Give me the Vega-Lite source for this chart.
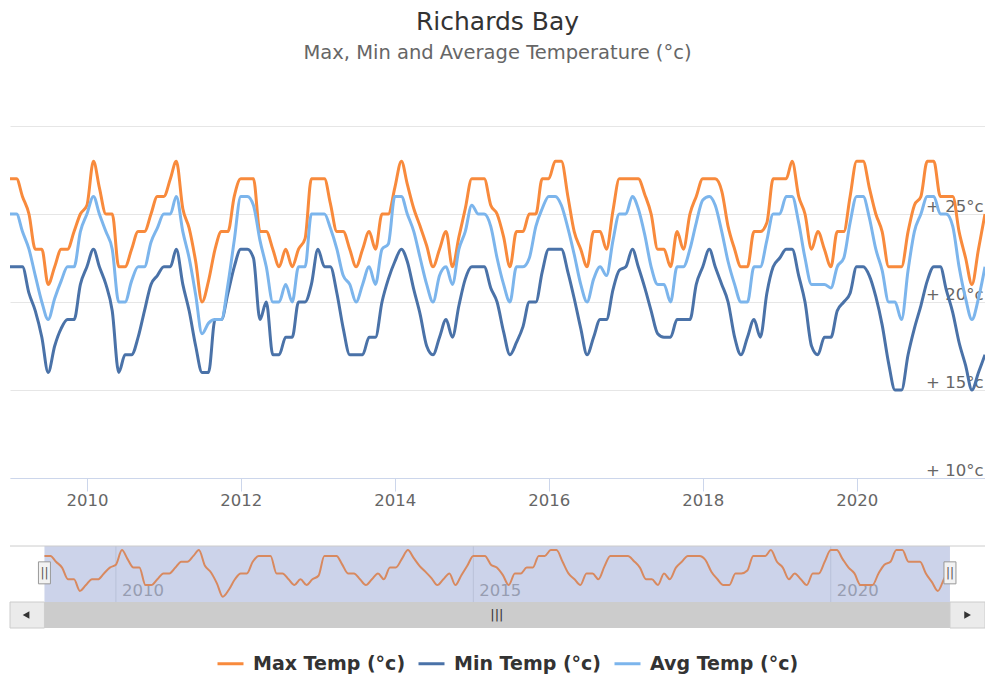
{
  "$schema": "https://vega.github.io/schema/vega-lite/v6.json",
  "width": 975,
  "height": 502,
  "autosize": {"type": "none"},
  "padding": {"left": 10, "top": 126, "right": 0, "bottom": 47},
  "background": "#ffffff",
  "config": {"view": {"stroke": null}, "font": "DejaVu Sans"},
  "title": {
    "text": "Richards Bay",
    "subtitle": "Max, Min and Average Temperature (°c)",
    "anchor": "middle",
    "frame": "group",
    "font": "DejaVu Sans",
    "fontSize": 25,
    "fontWeight": "normal",
    "color": "#333333",
    "subtitleFont": "DejaVu Sans",
    "subtitleFontSize": 19.5,
    "subtitleColor": "#666666",
    "subtitlePadding": 9,
    "offset": 64
  },
  "datasets": {
    "maxTemp": [
      {"date":"2009-01","value":27},{"date":"2009-02","value":27},{"date":"2009-03","value":26},{"date":"2009-04","value":25},{"date":"2009-05","value":23},{"date":"2009-06","value":23},{"date":"2009-07","value":21},{"date":"2009-08","value":22},{"date":"2009-09","value":23},{"date":"2009-10","value":23},{"date":"2009-11","value":24},{"date":"2009-12","value":25},
      {"date":"2010-01","value":25.5},{"date":"2010-02","value":28},{"date":"2010-03","value":26.5},{"date":"2010-04","value":25},{"date":"2010-05","value":25},{"date":"2010-06","value":22},{"date":"2010-07","value":22},{"date":"2010-08","value":23},{"date":"2010-09","value":24},{"date":"2010-10","value":24},{"date":"2010-11","value":25},{"date":"2010-12","value":26},
      {"date":"2011-01","value":26},{"date":"2011-02","value":27},{"date":"2011-03","value":28},{"date":"2011-04","value":25.3},{"date":"2011-05","value":24.2},{"date":"2011-06","value":22.3},{"date":"2011-07","value":20},{"date":"2011-08","value":21.2},{"date":"2011-09","value":23},{"date":"2011-10","value":24},{"date":"2011-11","value":24},{"date":"2011-12","value":26},
      {"date":"2012-01","value":27},{"date":"2012-02","value":27},{"date":"2012-03","value":27},{"date":"2012-04","value":24},{"date":"2012-05","value":24},{"date":"2012-06","value":23},{"date":"2012-07","value":22},{"date":"2012-08","value":23},{"date":"2012-09","value":22},{"date":"2012-10","value":23},{"date":"2012-11","value":23.6},{"date":"2012-12","value":27},
      {"date":"2013-01","value":27},{"date":"2013-02","value":27},{"date":"2013-03","value":25.6},{"date":"2013-04","value":24},{"date":"2013-05","value":24},{"date":"2013-06","value":23},{"date":"2013-07","value":22},{"date":"2013-08","value":23},{"date":"2013-09","value":24},{"date":"2013-10","value":23},{"date":"2013-11","value":25},{"date":"2013-12","value":25},
      {"date":"2014-01","value":26.5},{"date":"2014-02","value":28},{"date":"2014-03","value":26.7},{"date":"2014-04","value":25.3},{"date":"2014-05","value":24.3},{"date":"2014-06","value":23.2},{"date":"2014-07","value":22},{"date":"2014-08","value":23},{"date":"2014-09","value":24},{"date":"2014-10","value":22},{"date":"2014-11","value":23.7},{"date":"2014-12","value":25.3},
      {"date":"2015-01","value":27},{"date":"2015-02","value":27},{"date":"2015-03","value":27},{"date":"2015-04","value":25.5},{"date":"2015-05","value":25},{"date":"2015-06","value":23.7},{"date":"2015-07","value":22},{"date":"2015-08","value":24},{"date":"2015-09","value":24},{"date":"2015-10","value":25},{"date":"2015-11","value":25},{"date":"2015-12","value":27},
      {"date":"2016-01","value":27},{"date":"2016-02","value":28},{"date":"2016-03","value":28},{"date":"2016-04","value":26},{"date":"2016-05","value":24},{"date":"2016-06","value":23},{"date":"2016-07","value":22},{"date":"2016-08","value":24},{"date":"2016-09","value":24},{"date":"2016-10","value":23},{"date":"2016-11","value":25.2},{"date":"2016-12","value":27},
      {"date":"2017-01","value":27},{"date":"2017-02","value":27},{"date":"2017-03","value":27},{"date":"2017-04","value":26.1},{"date":"2017-05","value":25},{"date":"2017-06","value":23},{"date":"2017-07","value":23},{"date":"2017-08","value":22},{"date":"2017-09","value":24},{"date":"2017-10","value":23},{"date":"2017-11","value":25},{"date":"2017-12","value":26},
      {"date":"2018-01","value":27},{"date":"2018-02","value":27},{"date":"2018-03","value":27},{"date":"2018-04","value":26.3},{"date":"2018-05","value":24.3},{"date":"2018-06","value":23},{"date":"2018-07","value":22},{"date":"2018-08","value":22},{"date":"2018-09","value":24},{"date":"2018-10","value":24},{"date":"2018-11","value":24.5},{"date":"2018-12","value":27},
      {"date":"2019-01","value":27},{"date":"2019-02","value":27},{"date":"2019-03","value":28},{"date":"2019-04","value":26},{"date":"2019-05","value":25},{"date":"2019-06","value":23},{"date":"2019-07","value":24},{"date":"2019-08","value":23},{"date":"2019-09","value":22},{"date":"2019-10","value":24},{"date":"2019-11","value":24},{"date":"2019-12","value":26},
      {"date":"2020-01","value":28},{"date":"2020-02","value":28},{"date":"2020-03","value":26.5},{"date":"2020-04","value":25},{"date":"2020-05","value":24},{"date":"2020-06","value":22},{"date":"2020-07","value":22},{"date":"2020-08","value":22},{"date":"2020-09","value":24},{"date":"2020-10","value":25.5},{"date":"2020-11","value":26},{"date":"2020-12","value":28},
      {"date":"2021-01","value":28},{"date":"2021-02","value":26},{"date":"2021-03","value":26},{"date":"2021-04","value":26},{"date":"2021-05","value":24},{"date":"2021-06","value":22.5},{"date":"2021-07","value":21},{"date":"2021-08","value":23},{"date":"2021-09","value":25}
    ],
    "minTemp": [
      {"date":"2009-01","value":22},{"date":"2009-02","value":22},{"date":"2009-03","value":22},{"date":"2009-04","value":20.5},{"date":"2009-05","value":19.5},{"date":"2009-06","value":18},{"date":"2009-07","value":16},{"date":"2009-08","value":17.5},{"date":"2009-09","value":18.5},{"date":"2009-10","value":19},{"date":"2009-11","value":19},{"date":"2009-12","value":21},
      {"date":"2010-01","value":22},{"date":"2010-02","value":23},{"date":"2010-03","value":22},{"date":"2010-04","value":21},{"date":"2010-05","value":19.5},{"date":"2010-06","value":16},{"date":"2010-07","value":17},{"date":"2010-08","value":17},{"date":"2010-09","value":18},{"date":"2010-10","value":19.5},{"date":"2010-11","value":21},{"date":"2010-12","value":21.5},
      {"date":"2011-01","value":22},{"date":"2011-02","value":22},{"date":"2011-03","value":23},{"date":"2011-04","value":21},{"date":"2011-05","value":19.5},{"date":"2011-06","value":17.5},{"date":"2011-07","value":16},{"date":"2011-08","value":16},{"date":"2011-09","value":19},{"date":"2011-10","value":19},{"date":"2011-11","value":20.5},{"date":"2011-12","value":22},
      {"date":"2012-01","value":23},{"date":"2012-02","value":23},{"date":"2012-03","value":22.5},{"date":"2012-04","value":19},{"date":"2012-05","value":20},{"date":"2012-06","value":17},{"date":"2012-07","value":17},{"date":"2012-08","value":18},{"date":"2012-09","value":18},{"date":"2012-10","value":20},{"date":"2012-11","value":20},{"date":"2012-12","value":21},
      {"date":"2013-01","value":23},{"date":"2013-02","value":22},{"date":"2013-03","value":22},{"date":"2013-04","value":20.5},{"date":"2013-05","value":18.5},{"date":"2013-06","value":17},{"date":"2013-07","value":17},{"date":"2013-08","value":17},{"date":"2013-09","value":18},{"date":"2013-10","value":18},{"date":"2013-11","value":20},{"date":"2013-12","value":21.3},
      {"date":"2014-01","value":22.3},{"date":"2014-02","value":23},{"date":"2014-03","value":22.3},{"date":"2014-04","value":20.7},{"date":"2014-05","value":19.3},{"date":"2014-06","value":17.5},{"date":"2014-07","value":17},{"date":"2014-08","value":18},{"date":"2014-09","value":19},{"date":"2014-10","value":18},{"date":"2014-11","value":19.8},{"date":"2014-12","value":21.3},
      {"date":"2015-01","value":22},{"date":"2015-02","value":22},{"date":"2015-03","value":22},{"date":"2015-04","value":20.8},{"date":"2015-05","value":20},{"date":"2015-06","value":18.3},{"date":"2015-07","value":17},{"date":"2015-08","value":17.7},{"date":"2015-09","value":18.6},{"date":"2015-10","value":20},{"date":"2015-11","value":20},{"date":"2015-12","value":21.7},
      {"date":"2016-01","value":23},{"date":"2016-02","value":23},{"date":"2016-03","value":23},{"date":"2016-04","value":21.7},{"date":"2016-05","value":20.2},{"date":"2016-06","value":18.5},{"date":"2016-07","value":17},{"date":"2016-08","value":18},{"date":"2016-09","value":19},{"date":"2016-10","value":19},{"date":"2016-11","value":20.7},{"date":"2016-12","value":21.8},
      {"date":"2017-01","value":22},{"date":"2017-02","value":23},{"date":"2017-03","value":22},{"date":"2017-04","value":20.8},{"date":"2017-05","value":19.5},{"date":"2017-06","value":18.2},{"date":"2017-07","value":18},{"date":"2017-08","value":18},{"date":"2017-09","value":19},{"date":"2017-10","value":19},{"date":"2017-11","value":19},{"date":"2017-12","value":21},
      {"date":"2018-01","value":22},{"date":"2018-02","value":23},{"date":"2018-03","value":22},{"date":"2018-04","value":21},{"date":"2018-05","value":20},{"date":"2018-06","value":18},{"date":"2018-07","value":17},{"date":"2018-08","value":18},{"date":"2018-09","value":19},{"date":"2018-10","value":18},{"date":"2018-11","value":20.5},{"date":"2018-12","value":22},
      {"date":"2019-01","value":22.5},{"date":"2019-02","value":23},{"date":"2019-03","value":23},{"date":"2019-04","value":21.5},{"date":"2019-05","value":20},{"date":"2019-06","value":17.5},{"date":"2019-07","value":17},{"date":"2019-08","value":18},{"date":"2019-09","value":18},{"date":"2019-10","value":19.5},{"date":"2019-11","value":20},{"date":"2019-12","value":20.5},
      {"date":"2020-01","value":22},{"date":"2020-02","value":22},{"date":"2020-03","value":21.5},{"date":"2020-04","value":20.3},{"date":"2020-05","value":18.7},{"date":"2020-06","value":16.5},{"date":"2020-07","value":15},{"date":"2020-08","value":15},{"date":"2020-09","value":17},{"date":"2020-10","value":18.5},{"date":"2020-11","value":19.8},{"date":"2020-12","value":21.2},
      {"date":"2021-01","value":22},{"date":"2021-02","value":22},{"date":"2021-03","value":20.7},{"date":"2021-04","value":19.4},{"date":"2021-05","value":17.7},{"date":"2021-06","value":16.4},{"date":"2021-07","value":15},{"date":"2021-08","value":16},{"date":"2021-09","value":17}
    ],
    "avgTemp": [
      {"date":"2009-01","value":25},{"date":"2009-02","value":25},{"date":"2009-03","value":24},{"date":"2009-04","value":23},{"date":"2009-05","value":21.5},{"date":"2009-06","value":20},{"date":"2009-07","value":19},{"date":"2009-08","value":20.2},{"date":"2009-09","value":21.2},{"date":"2009-10","value":22},{"date":"2009-11","value":22},{"date":"2009-12","value":24},
      {"date":"2010-01","value":25},{"date":"2010-02","value":26},{"date":"2010-03","value":25},{"date":"2010-04","value":24},{"date":"2010-05","value":23},{"date":"2010-06","value":20},{"date":"2010-07","value":20},{"date":"2010-08","value":21.2},{"date":"2010-09","value":22},{"date":"2010-10","value":22},{"date":"2010-11","value":23.4},{"date":"2010-12","value":24.2},
      {"date":"2011-01","value":25},{"date":"2011-02","value":25},{"date":"2011-03","value":26},{"date":"2011-04","value":24},{"date":"2011-05","value":22.5},{"date":"2011-06","value":20.4},{"date":"2011-07","value":18.2},{"date":"2011-08","value":18.8},{"date":"2011-09","value":19},{"date":"2011-10","value":19},{"date":"2011-11","value":21},{"date":"2011-12","value":23.5},
      {"date":"2012-01","value":26},{"date":"2012-02","value":26},{"date":"2012-03","value":25.5},{"date":"2012-04","value":23.5},{"date":"2012-05","value":22},{"date":"2012-06","value":20},{"date":"2012-07","value":20},{"date":"2012-08","value":21},{"date":"2012-09","value":20},{"date":"2012-10","value":22},{"date":"2012-11","value":22},{"date":"2012-12","value":25},
      {"date":"2013-01","value":25},{"date":"2013-02","value":25},{"date":"2013-03","value":24.2},{"date":"2013-04","value":23},{"date":"2013-05","value":21.5},{"date":"2013-06","value":21},{"date":"2013-07","value":20},{"date":"2013-08","value":21},{"date":"2013-09","value":22},{"date":"2013-10","value":21},{"date":"2013-11","value":23},{"date":"2013-12","value":23.3},
      {"date":"2014-01","value":26},{"date":"2014-02","value":26},{"date":"2014-03","value":25},{"date":"2014-04","value":24},{"date":"2014-05","value":22.5},{"date":"2014-06","value":21},{"date":"2014-07","value":20},{"date":"2014-08","value":21.5},{"date":"2014-09","value":22},{"date":"2014-10","value":21},{"date":"2014-11","value":23},{"date":"2014-12","value":24},
      {"date":"2015-01","value":25.5},{"date":"2015-02","value":25},{"date":"2015-03","value":25},{"date":"2015-04","value":24.3},{"date":"2015-05","value":22.5},{"date":"2015-06","value":21},{"date":"2015-07","value":20},{"date":"2015-08","value":22},{"date":"2015-09","value":22},{"date":"2015-10","value":22.5},{"date":"2015-11","value":24.3},{"date":"2015-12","value":25.3},
      {"date":"2016-01","value":26},{"date":"2016-02","value":26},{"date":"2016-03","value":25.5},{"date":"2016-04","value":24.2},{"date":"2016-05","value":22.7},{"date":"2016-06","value":21},{"date":"2016-07","value":20},{"date":"2016-08","value":21.3},{"date":"2016-09","value":22},{"date":"2016-10","value":21.5},{"date":"2016-11","value":23.5},{"date":"2016-12","value":25},
      {"date":"2017-01","value":25},{"date":"2017-02","value":26},{"date":"2017-03","value":25.3},{"date":"2017-04","value":23.8},{"date":"2017-05","value":22},{"date":"2017-06","value":21},{"date":"2017-07","value":21},{"date":"2017-08","value":20},{"date":"2017-09","value":22},{"date":"2017-10","value":22},{"date":"2017-11","value":23},{"date":"2017-12","value":24.5},
      {"date":"2018-01","value":25.8},{"date":"2018-02","value":26},{"date":"2018-03","value":25.5},{"date":"2018-04","value":24},{"date":"2018-05","value":22.3},{"date":"2018-06","value":21},{"date":"2018-07","value":20},{"date":"2018-08","value":20},{"date":"2018-09","value":22},{"date":"2018-10","value":22},{"date":"2018-11","value":23.5},{"date":"2018-12","value":25},
      {"date":"2019-01","value":25},{"date":"2019-02","value":26},{"date":"2019-03","value":26},{"date":"2019-04","value":24.5},{"date":"2019-05","value":22.5},{"date":"2019-06","value":21},{"date":"2019-07","value":21},{"date":"2019-08","value":21},{"date":"2019-09","value":20.8},{"date":"2019-10","value":22},{"date":"2019-11","value":22.5},{"date":"2019-12","value":24.5},
      {"date":"2020-01","value":26},{"date":"2020-02","value":26},{"date":"2020-03","value":24.8},{"date":"2020-04","value":23},{"date":"2020-05","value":21.8},{"date":"2020-06","value":20},{"date":"2020-07","value":20},{"date":"2020-08","value":19},{"date":"2020-09","value":21.8},{"date":"2020-10","value":24},{"date":"2020-11","value":25},{"date":"2020-12","value":26},
      {"date":"2021-01","value":26},{"date":"2021-02","value":25},{"date":"2021-03","value":25},{"date":"2021-04","value":24.3},{"date":"2021-05","value":22},{"date":"2021-06","value":20.2},{"date":"2021-07","value":19},{"date":"2021-08","value":20.2},{"date":"2021-09","value":22}
    ],
    "selection": [{"from": "2009-01", "to": "2021-09"}],
    "navYears": [{"year": "2010-01"}, {"year": "2015-01"}, {"year": "2020-01"}],
    "scrollButtons": [{"from": "2008-07-09", "to": "2009-01-01", "side": "left"}, {"from": "2021-09-01", "to": "2022-02-27", "side": "right"}],
    "scrollArrows": [{"at": "2008-09-29", "shape": "triangle-left"}, {"at": "2021-11-30", "shape": "triangle-right"}],
    "scrollGrip": [{"at": "2015-05-01", "label": "|||"}]
  },
  "layer": [
    {
      "encoding": {
        "x": {
          "field": "date", "type": "temporal",
          "scale": {"type": "utc", "domain": [{"year": 2009, "month": 1, "date": 1, "utc": true}, {"year": 2021, "month": 9, "date": 1, "utc": true}], "range": [0, 975]},
          "axis": {
            "orient": "bottom", "offset": -150, "title": null, "grid": false,
            "values": [{"year": 2010, "utc": true}, {"year": 2012, "utc": true}, {"year": 2014, "utc": true}, {"year": 2016, "utc": true}, {"year": 2018, "utc": true}, {"year": 2020, "utc": true}],
            "format": "%Y",
            "domainColor": "#ccd6eb", "tickColor": "#ccd6eb", "tickSize": 13,
            "labelFont": "DejaVu Sans", "labelFontSize": 16.5, "labelColor": "#666666", "labelPadding": 1
          }
        },
        "y": {
          "field": "value", "type": "quantitative",
          "scale": {"domain": [10, 30], "range": [352, 0], "nice": false, "zero": false},
          "axis": {
            "orient": "right", "title": null, "values": [10, 15, 20, 25, 30],
            "labelExpr": "datum.value == 30 ? '' : '+ ' + datum.value + '°c'",
            "grid": true, "gridColor": "#e6e6e6", "domain": false, "ticks": false, "tickSize": 0,
            "labelAlign": "right", "labelBaseline": "middle", "labelPadding": -2, "labelOffset": -8,
            "labelFont": "DejaVu Sans", "labelFontSize": 16.5, "labelColor": "#666666"
          }
        },
        "color": {
          "type": "nominal",
          "scale": {"domain": ["Max Temp (°c)", "Min Temp (°c)", "Avg Temp (°c)"], "range": ["#f88a3c", "#4a72a8", "#7cb5ec"]},
          "legend": {
            "orient": "none", "legendX": 206, "legendY": 523, "direction": "horizontal", "title": null,
            "symbolType": "stroke", "symbolStrokeWidth": 3, "symbolSize": 676,
            "labelFont": "DejaVu Sans", "labelFontSize": 19, "labelFontWeight": "bold", "labelColor": "#333333",
            "columnPadding": 6, "labelOffset": 8
          }
        }
      },
      "layer": [
        {"data": {"name": "maxTemp"}, "mark": {"type": "line", "interpolate": "monotone", "strokeWidth": 3}, "encoding": {"color": {"datum": "Max Temp (°c)"}}},
        {"data": {"name": "minTemp"}, "mark": {"type": "line", "interpolate": "monotone", "strokeWidth": 3}, "encoding": {"color": {"datum": "Min Temp (°c)"}}},
        {"data": {"name": "avgTemp"}, "mark": {"type": "line", "interpolate": "monotone", "strokeWidth": 3}, "encoding": {"color": {"datum": "Avg Temp (°c)"}}}
      ]
    },
    {
      "layer": [
        {
          "data": {"name": "selection"},
          "mark": {"type": "rect", "fill": "#ccd3ea"},
          "encoding": {
            "x": {"field": "from", "type": "temporal", "axis": null, "scale": {"type": "utc", "domain": [{"year": 2008, "month": 7, "date": 9, "utc": true}, {"year": 2022, "month": 2, "date": 27, "utc": true}], "range": [0, 975]}},
            "x2": {"field": "to"},
            "y": {"datum": 19.1, "type": "quantitative", "axis": null, "scale": {"domain": [19.1, 28.7], "range": [476, 420], "nice": false, "zero": false}},
            "y2": {"datum": 28.7}
          }
        },
        {
          "data": {"name": "navYears"},
          "mark": {"type": "rule", "stroke": "#b9c1d8", "strokeWidth": 1},
          "encoding": {
            "x": {"field": "year", "type": "temporal", "axis": null, "scale": {"type": "utc", "domain": [{"year": 2008, "month": 7, "date": 9, "utc": true}, {"year": 2022, "month": 2, "date": 27, "utc": true}], "range": [0, 975]}},
            "y": {"datum": 19.1, "type": "quantitative", "axis": null, "scale": {"domain": [19.1, 28.7], "range": [476, 420], "nice": false, "zero": false}},
            "y2": {"datum": 28.7}
          }
        },
        {
          "data": {"name": "navYears"},
          "mark": {"type": "text", "align": "left", "baseline": "middle", "dx": 6, "fontSize": 16.5, "font": "DejaVu Sans", "fill": "#979db1"},
          "encoding": {
            "x": {"field": "year", "type": "temporal", "axis": null, "scale": {"type": "utc", "domain": [{"year": 2008, "month": 7, "date": 9, "utc": true}, {"year": 2022, "month": 2, "date": 27, "utc": true}], "range": [0, 975]}},
            "y": {"datum": 21.0, "type": "quantitative", "axis": null, "scale": {"domain": [19.1, 28.7], "range": [476, 420], "nice": false, "zero": false}},
            "text": {"field": "year", "type": "temporal", "format": "%Y"}
          }
        },
        {
          "data": {"name": "maxTemp"},
          "mark": {"type": "line", "interpolate": "monotone", "stroke": "#d8895f", "strokeWidth": 2},
          "encoding": {
            "x": {"field": "date", "type": "temporal", "axis": null, "scale": {"type": "utc", "domain": [{"year": 2008, "month": 7, "date": 9, "utc": true}, {"year": 2022, "month": 2, "date": 27, "utc": true}], "range": [0, 975]}},
            "y": {"field": "value", "type": "quantitative", "axis": null, "scale": {"domain": [19.1, 28.7], "range": [476, 420], "nice": false, "zero": false}}
          }
        },
        {
          "data": {"name": "selection"},
          "mark": {"type": "rule", "stroke": "#cccccc", "strokeWidth": 1},
          "encoding": {
            "y": {"datum": 28.7, "type": "quantitative", "axis": null, "scale": {"domain": [19.1, 28.7], "range": [476, 420], "nice": false, "zero": false}}
          }
        },
        {
          "data": {"name": "selection"},
          "transform": [{"fold": ["from", "to"], "as": ["edge", "at"]}],
          "mark": {"type": "rect", "width": 12, "height": 22, "fill": "#f2f2f2", "stroke": "#999999", "strokeWidth": 1},
          "encoding": {
            "x": {"field": "at", "type": "temporal", "axis": null, "scale": {"type": "utc", "domain": [{"year": 2008, "month": 7, "date": 9, "utc": true}, {"year": 2022, "month": 2, "date": 27, "utc": true}], "range": [0, 975]}},
            "y": {"datum": 24.1, "type": "quantitative", "axis": null, "scale": {"domain": [19.1, 28.7], "range": [476, 420], "nice": false, "zero": false}}
          }
        },
        {
          "data": {"name": "selection"},
          "transform": [{"fold": ["from", "to"], "as": ["edge", "at"]}],
          "mark": {"type": "text", "text": "||", "align": "center", "baseline": "middle", "fontSize": 12, "fill": "#555555", "font": "DejaVu Sans"},
          "encoding": {
            "x": {"field": "at", "type": "temporal", "axis": null, "scale": {"type": "utc", "domain": [{"year": 2008, "month": 7, "date": 9, "utc": true}, {"year": 2022, "month": 2, "date": 27, "utc": true}], "range": [0, 975]}},
            "y": {"datum": 24.1, "type": "quantitative", "axis": null, "scale": {"domain": [19.1, 28.7], "range": [476, 420], "nice": false, "zero": false}}
          }
        }
      ]
    },
    {
      "layer": [
        {
          "data": {"name": "selection"},
          "mark": {"type": "rect", "fill": "#cccccc"},
          "encoding": {
            "x": {"field": "from", "type": "temporal", "axis": null, "scale": {"type": "utc", "domain": [{"year": 2008, "month": 7, "date": 9, "utc": true}, {"year": 2022, "month": 2, "date": 27, "utc": true}], "range": [0, 975]}},
            "x2": {"field": "to"},
            "y": {"datum": 0, "type": "quantitative", "axis": null, "scale": {"domain": [0, 1], "range": [476, 502], "nice": false, "zero": false}},
            "y2": {"datum": 1}
          }
        },
        {
          "data": {"name": "scrollButtons"},
          "mark": {"type": "rect", "fill": "#ebebeb", "stroke": "#cccccc", "strokeWidth": 1},
          "encoding": {
            "x": {"field": "from", "type": "temporal", "axis": null, "scale": {"type": "utc", "domain": [{"year": 2008, "month": 7, "date": 9, "utc": true}, {"year": 2022, "month": 2, "date": 27, "utc": true}], "range": [0, 975]}},
            "x2": {"field": "to"},
            "y": {"datum": 0, "type": "quantitative", "axis": null, "scale": {"domain": [0, 1], "range": [476, 502], "nice": false, "zero": false}},
            "y2": {"datum": 1}
          }
        },
        {
          "data": {"name": "scrollArrows"},
          "mark": {"type": "point", "filled": true, "size": 60, "color": "#333333", "opacity": 1},
          "encoding": {
            "x": {"field": "at", "type": "temporal", "axis": null, "scale": {"type": "utc", "domain": [{"year": 2008, "month": 7, "date": 9, "utc": true}, {"year": 2022, "month": 2, "date": 27, "utc": true}], "range": [0, 975]}},
            "y": {"datum": 0.5, "type": "quantitative", "axis": null, "scale": {"domain": [0, 1], "range": [476, 502], "nice": false, "zero": false}},
            "shape": {"field": "shape", "type": "nominal", "scale": null, "legend": null}
          }
        },
        {
          "data": {"name": "scrollGrip"},
          "mark": {"type": "text", "align": "center", "baseline": "middle", "fontSize": 13, "fill": "#333333", "font": "DejaVu Sans"},
          "encoding": {
            "x": {"field": "at", "type": "temporal", "axis": null, "scale": {"type": "utc", "domain": [{"year": 2008, "month": 7, "date": 9, "utc": true}, {"year": 2022, "month": 2, "date": 27, "utc": true}], "range": [0, 975]}},
            "y": {"datum": 0.5, "type": "quantitative", "axis": null, "scale": {"domain": [0, 1], "range": [476, 502], "nice": false, "zero": false}},
            "text": {"field": "label"}
          }
        }
      ]
    }
  ],
  "resolve": {"scale": {"x": "independent", "y": "independent"}}
}
